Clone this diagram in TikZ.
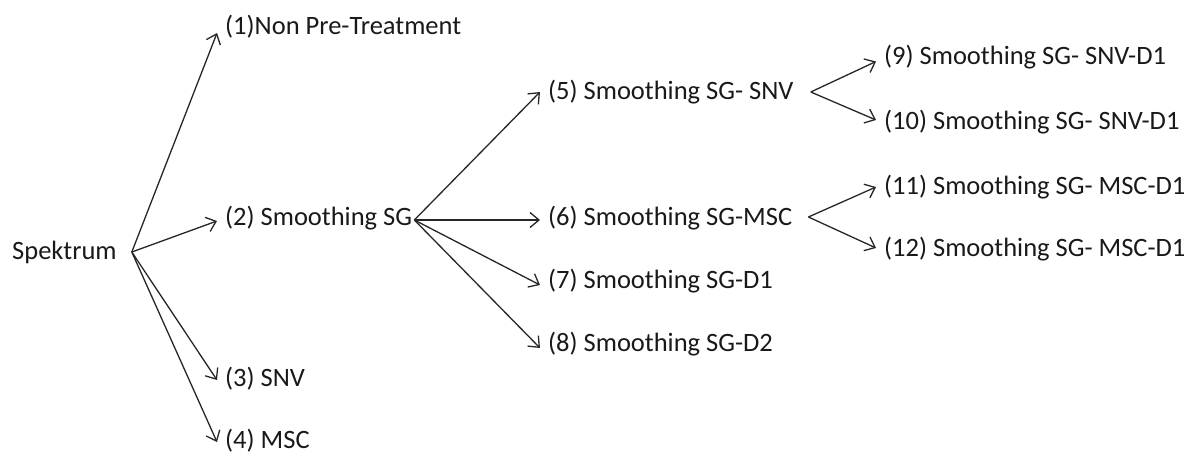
\documentclass[tikz,border=0pt]{standalone}
\usepackage{fontspec}
\setmainfont{Carlito}
\usetikzlibrary{arrows.meta}
\begin{document}
\begin{tikzpicture}
  [x=1pt,y=-1pt,
   every node/.style={anchor=west,inner sep=0pt,text=black!90,font=\fontsize{26.5}{31}\selectfont},
   arr/.style={-{Straight Barb[length=9pt,width=15pt]},line width=1.3pt,black!85}]
  \useasboundingbox (0,0) rectangle (1189,452);
  \node (spek) at (12,252) {Spektrum};
  \node (n1) at (225,27)  {(1)Non Pre-Treatment};
  \node (n2) at (225,218.5) {(2) Smoothing SG};
  \node (n3) at (225,379) {(3) SNV};
  \node (n4) at (225,441) {(4) MSC};
  \node (n5) at (548,92)  {(5) Smoothing SG- SNV};
  \node (n6) at (548,218) {(6) Smoothing SG-MSC};
  \node (n7) at (548,281) {(7) Smoothing SG-D1};
  \node (n8) at (548,344) {(8) Smoothing SG-D2};
  \node (n9) at (884,57.5) {(9) Smoothing SG- SNV-D1};
  \node (n10) at (884,122) {(10) Smoothing SG- SNV-D1};
  \node (n11) at (884,187) {(11) Smoothing SG- MSC-D1};
  \node (n12) at (884,249) {(12) Smoothing SG- MSC-D1};

  \coordinate (o0) at ([xshift=15pt]spek.east);
  \coordinate (o2) at ([shift={(2,1.5)}]n2.east);
  \coordinate (o5) at ([xshift=17pt]n5.east);
  \coordinate (o6) at ([shift={(16,-1)}]n6.east);

  \foreach \from/\to/\dy in {o0/n1/6,o0/n2/2.5,o0/n3/1,o0/n4/1,
                             o2/n5/0,o2/n6/2,o2/n7/4,o2/n8/4,
                             o5/n9/4,o5/n10/-2,o6/n11/0,o6/n12/-1}
    \draw[arr] (\from) -- ([shift={(-8,\dy)}]\to.west);

\end{tikzpicture}
\end{document}
